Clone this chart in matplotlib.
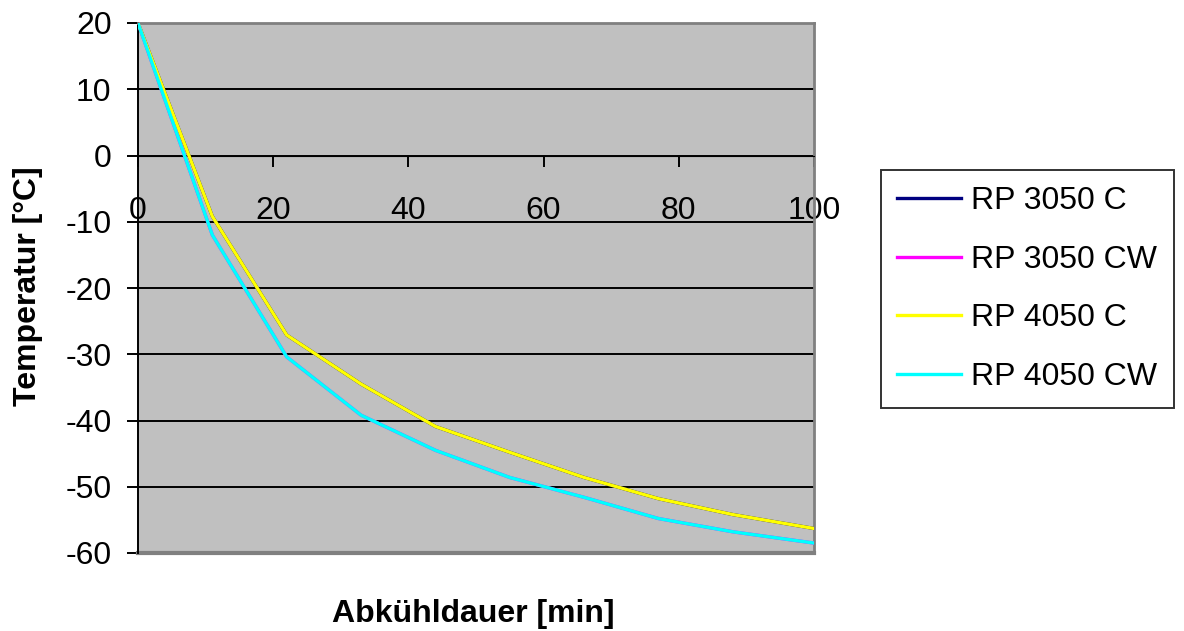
import matplotlib.pyplot as plt

plt.rcParams['font.family'] = ['Liberation Sans', 'DejaVu Sans']
plt.rcParams['axes.unicode_minus'] = False

# Abkühldauer [min]
zeit = [0, 11, 22, 33, 44, 55, 66, 77, 88, 100]
# Temperatur [°C]
rp3050_c = [20, -9.2, -27.1, -34.5, -40.9, -44.8, -48.6, -51.8, -54.2, -56.3]
rp3050_cw = [20, -12.0, -30.4, -39.2, -44.5, -48.6, -51.6, -54.8, -56.8, -58.5]
rp4050_c = [20, -9.2, -27.1, -34.5, -40.9, -44.8, -48.6, -51.8, -54.2, -56.3]
rp4050_cw = [20, -12.0, -30.4, -39.2, -44.5, -48.6, -51.6, -54.8, -56.8, -58.5]
namen = ['RP 3050 C', 'RP 3050 CW', 'RP 4050 C', 'RP 4050 CW']
farben = ['#000080', '#FF00FF', '#FFFF00', '#00FFFF']

fs = 23

fig = plt.figure(figsize=(11.84, 6.31), dpi=100)
ax = fig.add_axes([138/1184, 1-553/631, (814-138)/1184, (553-23)/631])
ax.set_facecolor('#C0C0C0')

for reihe, name, farbe in zip([rp3050_c, rp3050_cw, rp4050_c, rp4050_cw], namen, farben):
    ax.plot(zeit, reihe, color=farbe, lw=2.4, label=name, zorder=3)

ax.set_xlim(0, 100)
ax.set_ylim(-60, 20)
ax.set_xticks(range(0, 101, 20))
ax.set_yticks(range(-60, 21, 10))
for y in range(-50, 21, 10):
    ax.axhline(y, color='black', lw=1.4, zorder=1)

ax.spines['bottom'].set_position(('data', 0))
ax.spines['bottom'].set_color('black')
ax.spines['left'].set_color('black')
ax.spines['left'].set_linewidth(1.4)
ax.spines['top'].set_color('#808080')
ax.spines['right'].set_color('#808080')
ax.spines['top'].set_linewidth(2)
ax.spines['right'].set_linewidth(2)
ax.axhline(-60, color='#808080', lw=3, clip_on=False, zorder=2)

ax.tick_params(axis='x', direction='out', length=8, width=1.4, pad=21, labelsize=fs)
ax.tick_params(axis='y', direction='out', length=8, width=1.4, pad=11, labelsize=fs)

fig.text(473/1184, 1-614/631, 'Abkühldauer [min]', ha='center', va='center',
         fontsize=fs, fontweight='bold')
fig.text(28/1184, 1-286/631, 'Temperatur [°C]', ha='center', va='center',
         rotation=90, fontsize=fs, fontweight='bold')

leg = ax.legend(loc='upper left', bbox_to_anchor=(881/1184, 1-170/631),
                bbox_transform=fig.transFigure, fontsize=fs, frameon=True,
                fancybox=False, edgecolor='black', handlelength=2.0,
                labelspacing=0.9, borderpad=0.5, handletextpad=0.33,
                borderaxespad=0)
leg.get_frame().set_linewidth(1.4)

fig.savefig('out.png', dpi=100)
